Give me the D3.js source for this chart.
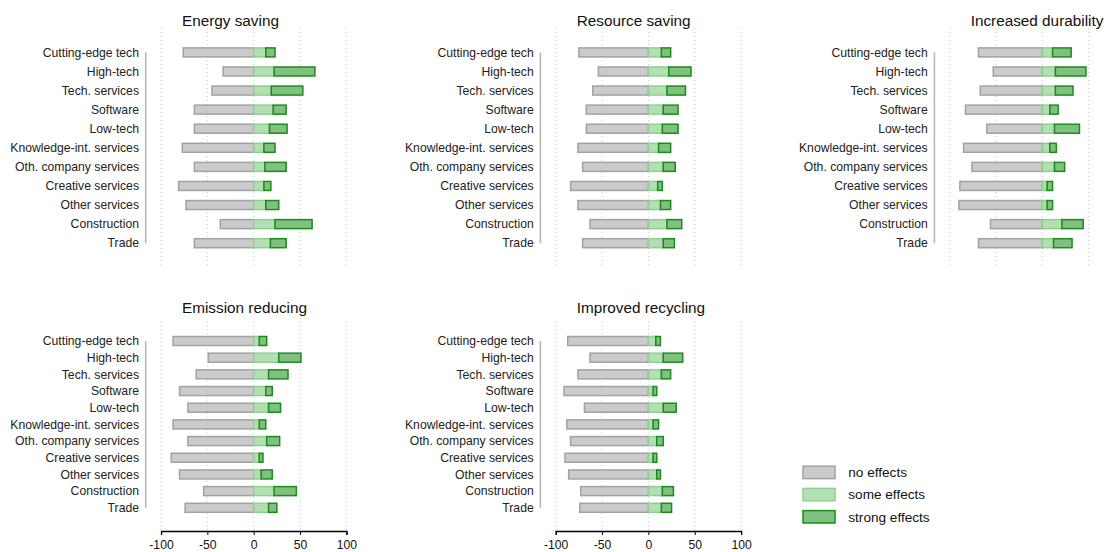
<!DOCTYPE html>
<html>
<head>
<meta charset="utf-8">
<script src="https://cdn.jsdelivr.net/npm/d3@7"></script>
<style>
  html, body { margin: 0; padding: 0; background: #fff; }
  svg { display: block; font-family: "Liberation Sans", Arial, sans-serif; }
</style>
</head>
<body>
<svg id="chart" width="1111" height="552"></svg>
<script>
// ---- data ----
const categories = ["Cutting-edge tech", "High-tech", "Tech. services", "Software", "Low-tech",
  "Knowledge-int. services", "Oth. company services", "Creative services", "Other services",
  "Construction", "Trade"];
const panelTitles = ["Energy saving", "Resource saving", "Increased durability", "Emission reducing", "Improved recycling"];
const legendLabels = ["no effects", "some effects", "strong effects"];
const xTicks = [-100, -50, 0, 50, 100];

const energyNo      = [76, 33, 45, 64, 64, 77, 64, 81, 73, 36, 64];
const energySome    = [13, 22, 19, 21, 17, 11, 12, 11, 13, 23, 18];
const energyStrong  = [10, 44, 34, 14, 19, 12, 23, 7.5, 14, 40, 17];

const resourceNo     = [75, 54, 60, 67, 67, 76, 71, 84, 76, 63, 71];
const resourceSome   = [14, 22, 20, 16, 15, 11, 16, 10, 13, 20, 16];
const resourceStrong = [10, 24, 20, 16, 17, 13, 13, 5, 11, 16, 12];

const durabilityNo     = [69, 53, 67, 83, 60, 85, 76, 89, 90, 56, 69];
const durabilitySome   = [11, 14, 14, 8, 13, 8, 13, 5, 5, 21, 12];
const durabilityStrong = [20, 33, 19, 9, 27, 7, 11, 6, 6, 23, 20];

const emissionNo     = [87, 49, 62, 80, 71, 87, 71, 89, 80, 54, 74];
const emissionSome   = [6, 27, 16, 13, 16, 6, 14, 6, 8, 22, 16];
const emissionStrong = [8, 24, 21, 7, 13, 7, 14, 4, 12, 24, 9];

const recyclingNo     = [87, 63, 76, 91, 69, 88, 84, 90, 86, 73, 74];
const recyclingSome   = [8, 16, 14, 5, 16, 5, 9, 5, 9, 15, 14];
const recyclingStrong = [5, 21, 10, 4, 14, 6, 7, 4, 4, 12, 11];

// ---- layout ----
const svg = d3.select("#chart");
const colLeft = [161, 555.7, 949.7];
const plotW = 185.4;
const rows = [
  { y0: 52.4, y1: 243.2, gTop: 28, gBot: 268, title: 25.7, axis: false },
  { y0: 341, y1: 507.8, gTop: 321, gBot: 531, title: 312.7, axis: true }
];
const colors = {
  no:     { fill: "#cbcbcb", stroke: "#a2a2a2" },
  some:   { fill: "#b4deb4", stroke: "#8fd08f" },
  strong: { fill: "#80c080", stroke: "#1a8c1a" }
};

const panels = [
  { title: panelTitles[0], col: 0, row: 0, no: energyNo, some: energySome, strong: energyStrong },
  { title: panelTitles[1], col: 1, row: 0, no: resourceNo, some: resourceSome, strong: resourceStrong },
  { title: panelTitles[2], col: 2, row: 0, no: durabilityNo, some: durabilitySome, strong: durabilityStrong },
  { title: panelTitles[3], col: 0, row: 1, no: emissionNo, some: emissionSome, strong: emissionStrong },
  { title: panelTitles[4], col: 1, row: 1, no: recyclingNo, some: recyclingSome, strong: recyclingStrong }
];

const barH = 9;

panels.forEach(p => {
  const r = rows[p.row];
  const left = colLeft[p.col];
  const x = d3.scaleLinear().domain([-100, 100]).range([left, left + plotW]);
  const y = d3.scalePoint().domain(categories).range([r.y0, r.y1]);
  const g = svg.append("g");

  // grid
  g.selectAll("line.grid").data(xTicks).enter().append("line")
    .attr("x1", d => x(d)).attr("x2", d => x(d))
    .attr("y1", r.gTop).attr("y2", r.gBot)
    .attr("stroke", "#c8c8c8").attr("stroke-width", 1)
    .attr("stroke-dasharray", "1,3");

  // title
  g.append("text").attr("x", left + 21).attr("y", r.title)
    .attr("font-size", "15.3px").attr("fill", "#111").text(p.title);

  // y axis line + labels
  g.append("line").attr("x1", left - 15.3).attr("x2", left - 15.3)
    .attr("y1", r.y0).attr("y2", r.y1)
    .attr("stroke", "#b4b4b4").attr("stroke-width", 1.5);
  g.selectAll("text.cat").data(categories).enter().append("text")
    .attr("x", left - 22).attr("y", d => y(d)).attr("dy", "0.35em")
    .attr("text-anchor", "end").attr("font-size", "12.2px").attr("fill", "#222")
    .text(d => d);

  const data = categories.map((c, i) => ({ c, no: p.no[i], some: p.some[i], strong: p.strong[i] }));

  // bars
  g.selectAll("rect.no").data(data).enter().append("rect")
    .attr("x", d => x(-d.no)).attr("width", d => x(0) - x(-d.no))
    .attr("y", d => y(d.c) - barH / 2).attr("height", barH)
    .attr("fill", colors.no.fill).attr("stroke", colors.no.stroke).attr("stroke-width", 1.5);
  g.selectAll("rect.some").data(data).enter().append("rect")
    .attr("x", x(0)).attr("width", d => x(d.some) - x(0))
    .attr("y", d => y(d.c) - barH / 2).attr("height", barH)
    .attr("fill", colors.some.fill).attr("stroke", colors.some.stroke).attr("stroke-width", 1.5);
  g.selectAll("rect.strong").data(data).enter().append("rect")
    .attr("x", d => x(d.some)).attr("width", d => x(d.some + d.strong) - x(d.some))
    .attr("y", d => y(d.c) - barH / 2).attr("height", barH)
    .attr("fill", colors.strong.fill).attr("stroke", colors.strong.stroke).attr("stroke-width", 1.5);

  // x axis (bottom row)
  if (r.axis) {
    const ax = g.append("g").attr("transform", `translate(0,${r.gBot})`)
      .call(d3.axisBottom(x).tickValues(xTicks).tickSize(4).tickPadding(5).tickFormat(d3.format("d")));
    ax.select(".domain").attr("stroke", "#000").attr("stroke-width", 1.3);
    ax.selectAll(".tick line").attr("stroke", "#000");
    ax.selectAll("text").attr("font-size", "12.2px").attr("fill", "#111")
      .attr("font-family", "Liberation Sans, Arial, sans-serif")
      .text(d => d < 0 ? "-" + Math.abs(d) : d);
  }
});

// legend
const legendKeys = ["no", "some", "strong"];
const legY = d3.scalePoint().domain(legendLabels).range([472.4, 516.8]);
const leg = svg.append("g");
leg.selectAll("rect").data(legendLabels).enter().append("rect")
  .attr("x", 803).attr("y", d => legY(d) - 6.2).attr("width", 32).attr("height", 12.4)
  .attr("fill", (d, i) => colors[legendKeys[i]].fill)
  .attr("stroke", (d, i) => colors[legendKeys[i]].stroke).attr("stroke-width", 1.5);
leg.selectAll("text").data(legendLabels).enter().append("text")
  .attr("x", 848.3).attr("y", d => legY(d)).attr("dy", "0.35em")
  .attr("font-size", "13.6px").attr("fill", "#111").text(d => d);
</script>
</body>
</html>
